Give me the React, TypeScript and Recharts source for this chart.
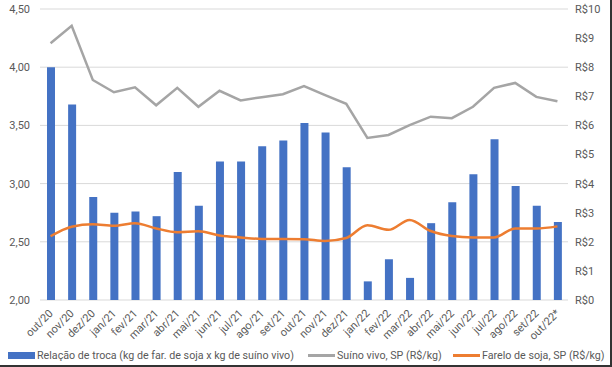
import React from 'react'
import {
  ComposedChart,
  Bar,
  Line,
  XAxis,
  YAxis,
  CartesianGrid,
  Legend,
} from 'recharts'

const months = [
  'out/20', 'nov/20', 'dez/20', 'jan/21', 'fev/21', 'mar/21', 'abr/21',
  'mai/21', 'jun/21', 'jul/21', 'ago/21', 'set/21', 'out/21', 'nov/21',
  'dez/21', 'jan/22', 'fev/22', 'mar/22', 'abr/22', 'mai/22', 'jun/22',
  'jul/22', 'ago/22', 'set/22', 'out/22*',
]

const relacaoTroca = [
  4.0, 3.68, 2.885, 2.75, 2.76, 2.72, 3.1, 2.81, 3.19, 3.19, 3.32, 3.37, 3.52,
  3.44, 3.14, 2.16, 2.35, 2.19, 2.66, 2.84, 3.08, 3.38, 2.98, 2.81, 2.67,
]

const suinoVivo = [
  8.82, 9.42, 7.56, 7.14, 7.31, 6.69, 7.29, 6.64, 7.19, 6.86, 6.97, 7.07, 7.35,
  7.04, 6.74, 5.57, 5.67, 6.01, 6.3, 6.25, 6.64, 7.29, 7.46, 6.98, 6.83,
]

const fareloSoja = [
  2.19, 2.52, 2.6, 2.55, 2.64, 2.46, 2.33, 2.36, 2.22, 2.15, 2.1, 2.1, 2.09,
  2.03, 2.13, 2.57, 2.41, 2.75, 2.37, 2.2, 2.15, 2.15, 2.46, 2.46, 2.53,
]

const leftTicks = [2, 2.5, 3, 3.5, 4, 4.5]
const rightTicks = [0, 1, 2, 3, 4, 5, 6, 7, 8, 9, 10]

const seriesNames = [
  'Relação de troca (kg de far. de soja x kg de suíno vivo)',
  'Suíno vivo, SP (R$/kg)',
  'Farelo de soja, SP (R$/kg)',
]

const data = months.map((m, i) => ({
  month: m,
  troca: relacaoTroca[i],
  suino: suinoVivo[i],
  farelo: fareloSoja[i],
}))

const textColor = '#595959'
const font = 'Roboto, "Liberation Sans", sans-serif'

const MonthTick = (props: any) => {
  const { x, y, payload } = props
  return (
    <text
      x={x + 3}
      y={y + 6}
      textAnchor="end"
      fill={textColor}
      fontSize={11}
      fontFamily={font}
      transform={`rotate(-45, ${x + 3}, ${y + 6})`}
    >
      {payload.value}
    </text>
  )
}

const CustomLegend = () => {
  const items = [
    { name: seriesNames[0], color: '#4472C4', left: 8, type: 'bar' },
    { name: seriesNames[1], color: '#A5A5A5', left: 308, type: 'line' },
    { name: seriesNames[2], color: '#ED7D31', left: 453, type: 'line' },
  ]
  return (
    <div style={{ position: 'relative', height: 20, fontFamily: font, fontSize: 10.7, color: textColor }}>
      {items.map((it) => (
        <div
          key={it.name}
          style={{ position: 'absolute', left: it.left, top: 0, display: 'flex', alignItems: 'center', whiteSpace: 'nowrap', height: 20 }}
        >
          <span
            style={{
              display: 'inline-block',
              width: 27,
              height: it.type === 'bar' ? 7 : 3,
              background: it.color,
              marginRight: 2,
            }}
          />
          <span>{it.name}</span>
        </div>
      ))}
    </div>
  )
}

const App: React.FC = () => {
  return (
    <div
      style={{
        position: 'absolute',
        left: 0,
        top: 0,
        width: 610,
        height: 365,
        borderRight: '2px solid #333',
        borderBottom: '2px solid #333',
        background: '#fff',
      }}
    >
      <ComposedChart
        width={610}
        height={365}
        data={data}
        margin={{ top: 9, right: 0, left: 0, bottom: 0 }}
      >
        <CartesianGrid yAxisId="left" stroke="#d9d9d9" vertical={false} />
        <XAxis
          dataKey="month"
          axisLine={false}
          tickLine={false}
          interval={0}
          height={45}
          tick={<MonthTick />}
        />
        <YAxis
          yAxisId="left"
          domain={[2, 4.5]}
          ticks={leftTicks}
          width={40}
          axisLine={false}
          tickLine={false}
          tickMargin={4}
          tick={{ fill: textColor, fontSize: 11, fontFamily: font }}
          tickFormatter={(v: number) => v.toFixed(2).replace('.', ',')}
        />
        <YAxis
          yAxisId="right"
          orientation="right"
          domain={[0, 10]}
          ticks={rightTicks}
          width={42}
          axisLine={false}
          tickLine={false}
          tickMargin={1}
          tick={{ fill: textColor, fontSize: 11, fontFamily: font, textAnchor: 'start' }}
          tickFormatter={(v: number) => `R$${v}`}
        />
        <Legend
          verticalAlign="bottom"
          height={20}
          content={<CustomLegend />}
          wrapperStyle={{ left: 0, bottom: 0, width: 610 }}
        />
        <Bar
          yAxisId="left"
          dataKey="troca"
          name={seriesNames[0]}
          fill="#4472C4"
          barSize={8}
          isAnimationActive={false}
        />
        <Line
          yAxisId="right"
          dataKey="suino"
          name={seriesNames[1]}
          stroke="#A5A5A5"
          strokeWidth={2.5}
          dot={false}
          type="linear"
          isAnimationActive={false}
        />
        <Line
          yAxisId="right"
          dataKey="farelo"
          name={seriesNames[2]}
          stroke="#ED7D31"
          strokeWidth={2.5}
          dot={false}
          type="monotone"
          isAnimationActive={false}
        />
      </ComposedChart>
    </div>
  )
}

export default App
